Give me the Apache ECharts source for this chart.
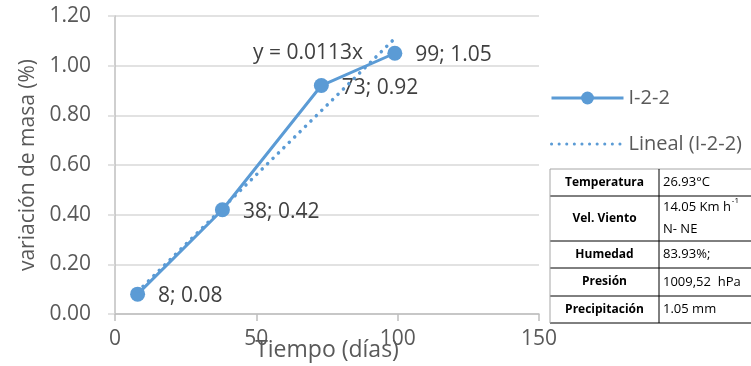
<!DOCTYPE html>
<html>
<head>
<meta charset="utf-8">
<script src="https://cdn.jsdelivr.net/npm/echarts@6/dist/echarts.min.js"></script>
<style>
    html, body { margin: 0; padding: 0; background: #fff; }
    #chart { width: 751px; height: 366px; }
</style>
</head>
<body>
<div id="chart"></div>
<script>
// datos
var dias = [8, 38, 73, 99];
var masa = [0.08, 0.42, 0.92, 1.05];
var tendencia = [[8, 0.09], [99, 1.11]];
var ecuacion = 'y = 0.0113x';

var tablaEtiquetas = ['Temperatura', 'Vel. Viento', 'Humedad', 'Presión', 'Precipitación'];
var tablaValores = ['26.93°C', '{n|14.05 Km h}{s|-1}\nN- NE', '83.93%;', '1009,52  hPa', '1.05 mm'];

var azul = '#5b9bd5';
var gris = '#595959';
var fuente = 'Open Sans';

var chart = echarts.init(document.getElementById('chart'));

// tabla de condiciones (a la derecha)
var filas = [169, 196, 241, 268, 296, 323];
var tx0 = 550, tx1 = 659, tx2 = 751;
var graficos = [];
for (var i = 1; i < filas.length; i++) {
    graficos.push({
        type: 'line',
        shape: { x1: tx0, y1: filas[i], x2: tx2, y2: filas[i] },
        style: { stroke: '#000', lineWidth: 1 }
    });
}
graficos.push({ type: 'line', shape: { x1: tx0, y1: filas[0], x2: tx2, y2: filas[0] }, style: { stroke: '#a6a6a6', lineWidth: 1 } });
graficos.push({ type: 'line', shape: { x1: tx0, y1: filas[0], x2: tx0, y2: filas[5] }, style: { stroke: '#a6a6a6', lineWidth: 1 } });
graficos.push({ type: 'line', shape: { x1: tx1, y1: filas[0], x2: tx1, y2: filas[5] }, style: { stroke: '#000', lineWidth: 1 } });
tablaEtiquetas.forEach(function(t, k) {
    var yc = (filas[k] + filas[k + 1]) / 2;
    graficos.push({
        type: 'text', x: (tx0 + tx1) / 2, y: yc,
        style: { text: t, font: 'bold 12px "' + fuente + '"', fill: '#000', align: 'center', verticalAlign: 'middle' }
    });
    graficos.push({
        type: 'text', x: tx1 + 4, y: yc,
        style: {
            text: tablaValores[k], fill: '#000', align: 'left', verticalAlign: 'middle',
            font: '13px "' + fuente + '"', lineHeight: 22,
            rich: {
                n: { fontSize: 13, fontFamily: fuente, fill: '#000' },
                s: { fontSize: 8, fontFamily: fuente, fill: '#000', verticalAlign: 'top', padding: [0, 0, 6, 1] }
            }
        }
    });
});
graficos.push({
    type: 'text', left: 253, top: 43,
    style: { text: ecuacion, font: '21px "' + fuente + '"', fill: '#404040' }
});

var option = {
    animation: false,
    textStyle: { fontFamily: fuente },
    grid: { left: 115, right: 212, top: 16, bottom: 52, outerBoundsMode: 'none', containLabel: false },
    legend: {
        orient: 'vertical',
        left: 545,
        top: 83,
        itemWidth: 72,
        itemHeight: 16,
        itemGap: 26,
        textStyle: { fontSize: 20, color: gris, fontFamily: fuente },
        lineStyle: { width: 3 },
        data: [
            'I-2-2',
            { name: 'Lineal (I-2-2)', itemStyle: { color: 'transparent', borderWidth: 0 } }
        ]
    },
    xAxis: {
        type: 'value',
        min: 0,
        max: 150,
        interval: 50,
        name: 'Tiempo (días)',
        nameLocation: 'middle',
        nameGap: 25,
        nameMoveOverlap: false,
        nameTextStyle: { fontSize: 23, color: gris },
        axisLine: { lineStyle: { color: '#bfbfbf', width: 1.5 } },
        axisTick: { show: true, length: 7, lineStyle: { color: '#bfbfbf', width: 1.5 } },
        axisLabel: { fontSize: 21, color: gris, margin: 15 },
        splitLine: { show: false }
    },
    yAxis: {
        type: 'value',
        min: 0,
        max: 1.2,
        interval: 0.2,
        name: 'variación de masa (%)',
        nameLocation: 'middle',
        nameGap: 76,
        nameMoveOverlap: false,
        nameTextStyle: { fontSize: 21, color: gris },
        axisLine: { show: true, lineStyle: { color: '#bfbfbf', width: 1.5 } },
        axisTick: { show: true, length: 7, lineStyle: { color: '#d9d9d9', width: 1.5 } },
        axisLabel: {
            fontSize: 21, color: gris, margin: 24,
            formatter: function(v) { return v.toFixed(2); }
        },
        splitLine: { lineStyle: { color: '#d9d9d9', width: 1.5 } }
    },
    series: [
        {
            name: 'I-2-2',
            type: 'line',
            data: dias.map(function(d, k) { return [d, masa[k]]; }),
            symbol: 'circle',
            symbolSize: 15,
            itemStyle: { color: azul },
            lineStyle: { color: azul, width: 3 },
            label: {
                show: true,
                position: 'right',
                distance: 13,
                offset: [0, 2],
                fontSize: 21,
                color: '#404040',
                formatter: function(p) { return p.value[0] + '; ' + p.value[1].toFixed(2); }
            },
            z: 2
        },
        {
            name: 'Lineal (I-2-2)',
            type: 'line',
            data: tendencia,
            symbol: 'none',
            lineStyle: { color: azul, width: 3.5, type: [0.1, 7.5], cap: 'round' },
            itemStyle: { color: azul },
            z: 3
        }
    ],
    graphic: graficos
};

chart.setOption(option);
</script>
</body>
</html>
